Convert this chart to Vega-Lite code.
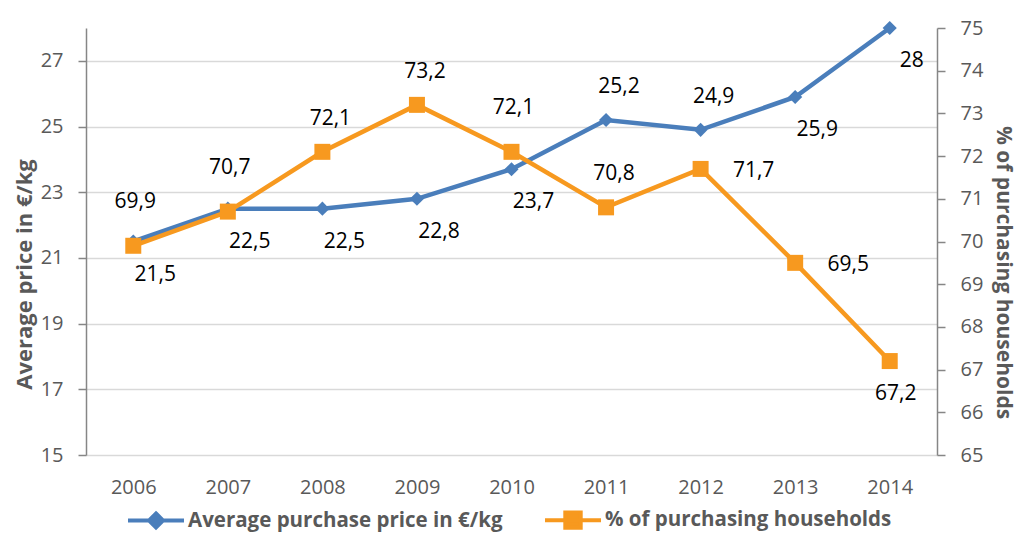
{
  "$schema": "https://vega.github.io/schema/vega-lite/v6.json",
  "width": 851,
  "height": 427,
  "padding": {"left": 13, "top": 18, "right": 3, "bottom": 4},
  "background": "white",
  "config": {
    "locale": {"number": {"decimal": ",", "thousands": ".", "grouping": [3], "currency": ["", " €"]}},
    "view": {"stroke": null},
    "font": "Open Sans"
  },
  "data": {
    "values": [
      {"year": "2006", "price": 21.5, "pct": 69.9},
      {"year": "2007", "price": 22.5, "pct": 70.7},
      {"year": "2008", "price": 22.5, "pct": 72.1},
      {"year": "2009", "price": 22.8, "pct": 73.2},
      {"year": "2010", "price": 23.7, "pct": 72.1},
      {"year": "2011", "price": 25.2, "pct": 70.8},
      {"year": "2012", "price": 24.9, "pct": 71.7},
      {"year": "2013", "price": 25.9, "pct": 69.5},
      {"year": "2014", "price": 28.0, "pct": 67.2}
    ]
  },
  "encoding": {
    "x": {
      "field": "year",
      "type": "ordinal",
      "axis": {
        "title": null,
        "labelAngle": 0,
        "ticks": false,
        "domain": false,
        "grid": false,
        "labelPadding": 22,
        "labelFontSize": 20,
        "labelColor": "#595959",
        "labelFont": "Open Sans"
      }
    }
  },
  "layer": [
    {
      "encoding": {
        "y": {
          "field": "price",
          "type": "quantitative",
          "scale": {"domain": [15, 28], "nice": false, "zero": false},
          "axis": {
            "orient": "left",
            "values": [15, 17, 19, 21, 23, 25, 27],
            "grid": true,
            "gridColor": "#D9D9D9",
            "gridWidth": 1.5,
            "domainColor": "#868686",
            "domainWidth": 1.5,
            "tickColor": "#868686",
            "tickWidth": 1.5,
            "tickSize": 8,
            "labelPadding": 15,
            "labelFontSize": 20,
            "labelColor": "#595959",
            "labelFont": "Open Sans",
            "title": "Average price in €/kg",
            "titleFont": "Open Sans",
            "titleFontSize": 22,
            "titleFontWeight": "bold",
            "titleColor": "#595959",
            "titlePadding": 4,
            "titleY": 246
          }
        }
      },
      "layer": [
        {
          "mark": {"type": "line", "strokeWidth": 4.5},
          "encoding": {
            "color": {
              "datum": "Average purchase price in €/kg",
              "scale": {
                "domain": ["Average purchase price in €/kg", "% of purchasing households"],
                "range": ["#4A7EBB", "#F7991F"]
              },
              "legend": {
                "orient": "none",
                "legendX": 54,
                "legendY": 476,
                "direction": "horizontal",
                "title": null,
                "padding": 0,
                "labelFont": "Open Sans",
                "labelFontSize": 20.5,
                "labelFontWeight": "bold",
                "labelColor": "#595959",
                "labelLimit": 0,
                "labelOffset": 16,
                "columnPadding": 34,
                "symbolSize": 784,
                "encode": {
                  "symbols": {
                    "update": {
                      "shape": {"signal": "datum.value == '% of purchasing households' ? 'M-2,0H2M-0.55,-0.55H0.55V0.55H-0.55Z' : 'M-2,0H2M0,-0.5L0.5,0L0,0.5L-0.5,0Z'"},
                      "fill": {"signal": "datum.value == '% of purchasing households' ? '#F7991F' : '#4A7EBB'"},
                      "stroke": {"signal": "datum.value == '% of purchasing households' ? '#F7991F' : '#4A7EBB'"},
                      "strokeWidth": {"value": 4},
                      "opacity": {"value": 1}
                    }
                  }
                }
              }
            }
          }
        },
        {
          "mark": {"type": "point", "shape": "diamond", "filled": true, "size": 200, "opacity": 1},
          "encoding": {"color": {"datum": "Average purchase price in €/kg"}}
        },
        {
          "transform": [{"filter": {"not": {"field": "year", "oneOf": ["2011", "2012"]}}}],
          "mark": {"type": "text", "dx": 22, "dy": 33, "fontSize": 21, "color": "#000000", "font": "Open Sans"},
          "encoding": {"text": {"field": "price", "type": "quantitative", "format": ".3~g"}}
        },
        {
          "transform": [{"filter": {"field": "year", "oneOf": ["2011", "2012"]}}],
          "mark": {"type": "text", "dx": 13, "dy": -33, "fontSize": 21, "color": "#000000", "font": "Open Sans"},
          "encoding": {"text": {"field": "price", "type": "quantitative", "format": ".3~g"}}
        }
      ]
    },
    {
      "encoding": {
        "y": {
          "field": "pct",
          "type": "quantitative",
          "scale": {"domain": [65, 75], "nice": false, "zero": false},
          "axis": {
            "orient": "right",
            "values": [65, 66, 67, 68, 69, 70, 71, 72, 73, 74, 75],
            "grid": false,
            "domainColor": "#868686",
            "domainWidth": 1.5,
            "tickColor": "#868686",
            "tickWidth": 1.5,
            "tickSize": 8,
            "labelPadding": 15,
            "labelFontSize": 20,
            "labelColor": "#595959",
            "labelFont": "Open Sans",
            "title": "% of purchasing households",
            "titleFont": "Open Sans",
            "titleFontSize": 21,
            "titleFontWeight": "bold",
            "titleColor": "#595959",
            "titlePadding": 10,
            "titleY": 244
          }
        }
      },
      "layer": [
        {
          "mark": {"type": "line", "strokeWidth": 4.5},
          "encoding": {"color": {"datum": "% of purchasing households"}}
        },
        {
          "mark": {"type": "point", "shape": "square", "filled": true, "size": 256, "opacity": 1},
          "encoding": {"color": {"datum": "% of purchasing households"}}
        },
        {
          "transform": [{"filter": {"field": "year", "oneOf": ["2006", "2007", "2010"]}}],
          "mark": {"type": "text", "dx": 2, "dy": -44, "fontSize": 21, "color": "#000000", "font": "Open Sans"},
          "encoding": {"text": {"field": "pct", "type": "quantitative", "format": ".3~g"}}
        },
        {
          "transform": [{"filter": {"field": "year", "oneOf": ["2008", "2009", "2011"]}}],
          "mark": {"type": "text", "dx": 8, "dy": -33, "fontSize": 21, "color": "#000000", "font": "Open Sans"},
          "encoding": {"text": {"field": "pct", "type": "quantitative", "format": ".3~g"}}
        },
        {
          "transform": [{"filter": {"field": "year", "oneOf": ["2012", "2013"]}}],
          "mark": {"type": "text", "dx": 53, "dy": 2, "fontSize": 21, "color": "#000000", "font": "Open Sans"},
          "encoding": {"text": {"field": "pct", "type": "quantitative", "format": ".3~g"}}
        },
        {
          "transform": [{"filter": {"field": "year", "oneOf": ["2014"]}}],
          "mark": {"type": "text", "dx": 6, "dy": 33, "fontSize": 21, "color": "#000000", "font": "Open Sans"},
          "encoding": {"text": {"field": "pct", "type": "quantitative", "format": ".3~g"}}
        }
      ]
    }
  ],
  "resolve": {"scale": {"y": "independent"}}
}
